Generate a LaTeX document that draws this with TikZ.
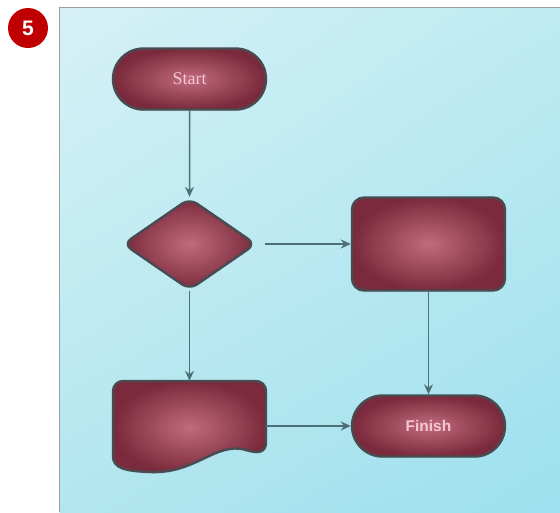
\documentclass[tikz,border=0pt]{standalone}
\usepackage{fontspec}
\setmainfont{Liberation Serif}
\setsansfont{Liberation Sans}
\usetikzlibrary{shapes.geometric,shapes.misc,arrows.meta,shadows,shadings}
\definecolor{pout}{HTML}{7A2A3C}
\definecolor{pin}{HTML}{C26A7E}
\definecolor{edge}{HTML}{474C50}
\definecolor{arr}{HTML}{4E6E78}
\definecolor{lbl}{HTML}{F2C6D2}
\definecolor{badge}{HTML}{C00000}
\definecolor{frame}{HTML}{9A9FA2}
\definecolor{bgtl}{HTML}{D6F1F6}
\definecolor{bgtr}{HTML}{BEEBF2}
\definecolor{bgbl}{HTML}{B2E6EF}
\definecolor{bgbr}{HTML}{9EE0EE}
\tikzset{
  flowshape/.style={draw=edge, line width=2.4pt, shading=radial, inner color=pin, outer color=pout,
    drop shadow={shadow xshift=0.5pt, shadow yshift=-1.5pt, opacity=0.25}},
  pill/.style={flowshape, rounded rectangle, minimum width=153pt, minimum height=61pt, inner sep=0pt},
  boxshape/.style={flowshape, rectangle, rounded corners=12pt, minimum width=153pt, minimum height=93pt},
  decision/.style={flowshape, diamond, rounded corners=9pt, minimum width=133pt, minimum height=92pt, inner sep=0pt, aspect=1.45},
  conn/.style={draw=arr, line width=1.5pt, -{Stealth[length=10pt,width=9pt]}},
}
\begin{document}
\begin{tikzpicture}[x=1pt,y=-1pt]
\fill[white] (0,0) rectangle (560,512);
\useasboundingbox (0,0) rectangle (560,512);
% panel
\shade[upper left=bgtl, upper right=bgtr, lower left=bgbl, lower right=bgbr] (59.5,7.5) rectangle (560,512);
\draw[frame, line width=1.2pt] (59.5,512) -- (59.5,7.5) -- (560,7.5);
% badge
\node[circle, fill=badge, minimum size=40pt, inner sep=0pt, text=white, font=\sffamily\bfseries\fontsize{21}{21}\selectfont] (badge) at (28,28) {5};
% nodes
\node[pill, font=\fontsize{18}{18}\selectfont, text=lbl] (start) at (189.5,79) {Start};
\node[decision] (dia) at (189.5,244) {};
\node[boxshape] (proc) at (428.5,244) {};
\node[pill, font=\sffamily\bfseries\fontsize{15.5}{15.5}\selectfont, text=lbl] (finish) at (428.5,426) {Finish};
\node[minimum width=153pt, minimum height=90pt, inner sep=0pt] (doc) at (189.5,426) {};
\path[flowshape] (113,391) arc[start angle=180, end angle=270, radius=10] -- (256,381)
  arc[start angle=270, end angle=360, radius=10] -- (266,442)
  .. controls (266,454) and (256,453) .. (246,450)
  .. controls (216,441) and (196,474) .. (150,472)
  .. controls (124,471) and (113,468) .. (113,456) -- cycle;
% connectors
\draw[conn] (start) -- (dia);
\draw[conn, shorten <=8pt] (dia.east) -- (proc.west);
\draw[conn] (dia) -- (doc);
\draw[conn] (proc) -- (finish);
\draw[conn] (doc) -- (finish);
\end{tikzpicture}
\end{document}
